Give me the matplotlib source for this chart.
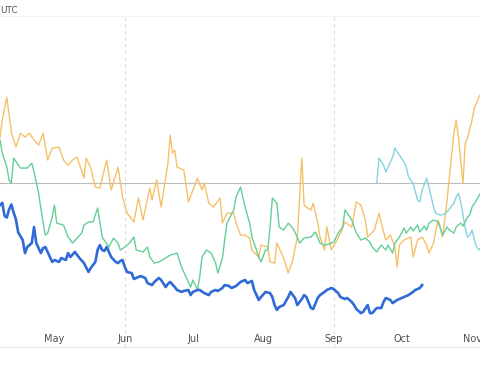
import pandas as pd
import matplotlib
matplotlib.use("Agg")
import matplotlib.pyplot as plt
import matplotlib.dates as mdates

start = pd.Timestamp("2024-04-07")

# days since start, values (reference level = 100)
orange_days = [0, 1, 3, 5, 7, 9, 11, 13, 15, 17, 19, 21, 23, 26, 28, 30, 32, 34, 37, 38,
               40, 42, 44, 47, 49, 52, 54, 56, 59, 61, 63, 66, 67, 69, 71, 74, 75, 76, 77, 78,
               81, 83, 85, 87, 89, 90, 92, 94, 97, 98, 100, 103, 104, 106, 108, 110, 111, 114, 115, 118,
               119, 121, 122, 125, 127, 129, 131, 133, 134, 135, 137, 138, 140, 141, 143, 144, 146, 148, 150, 152,
               155, 157, 159, 161, 162, 165, 167, 168, 170, 172, 174, 175, 176, 178, 181, 182, 184, 186, 188, 189,
               191, 193, 194, 195, 197, 198, 200, 201, 202, 204, 205, 206, 208, 209, 211, 212]
orange_vals = [128.1, 138.5, 152.4, 131.2, 122.0, 130.5, 128.1, 130.5, 126.3, 123.2, 130.5, 114.1, 121.4, 122.0, 114.1, 111.0, 114.1, 115.9, 103.1, 115.3,
               109.2, 97.6, 97.0, 114.1, 95.8, 109.8, 91.5, 81.7, 76.3, 90.9, 77.5, 97.0, 89.7, 101.9, 85.4, 112.2, 129.3, 118.3, 120.2, 109.8,
               108.0, 88.5, 95.8, 103.1, 95.8, 100.0, 87.8, 85.4, 90.9, 75.6, 81.7, 81.7, 75.6, 68.3, 68.3, 66.5, 59.2, 54.9, 62.2, 61.0,
               51.9, 51.2, 63.4, 54.3, 45.1, 53.1, 67.1, 115.3, 86.6, 85.4, 83.6, 87.8, 75.6, 67.1, 59.2, 73.2, 59.2, 64.0, 69.5, 76.3,
               73.2, 88.5, 86.6, 77.5, 67.1, 71.4, 81.7, 75.6, 65.3, 68.3, 61.0, 48.8, 62.2, 65.3, 67.1, 54.9, 65.3, 67.1, 62.2, 57.3,
               63.4, 77.5, 73.2, 67.1, 89.7, 103.7, 130.5, 138.5, 128.1, 100.0, 124.4, 127.5, 138.5, 145.8, 152.4, 155.0]

green_days = [0, 1, 3, 4, 5, 6, 9, 12, 14, 15, 17, 19, 20, 21, 23, 24, 25, 28, 30, 32,
              34, 36, 37, 39, 41, 43, 44, 45, 48, 50, 52, 53, 55, 57, 59, 60, 63, 65, 66, 68,
              70, 73, 75, 78, 80, 82, 84, 85, 87, 88, 89, 91, 93, 95, 96, 98, 99, 100, 103, 104,
              106, 108, 110, 111, 113, 114, 115, 117, 118, 119, 120, 122, 123, 125, 127, 129, 131, 132, 134, 137,
              139, 141, 143, 145, 147, 149, 151, 152, 153, 155, 157, 159, 161, 163, 164, 166, 168, 170, 171, 173,
              174, 176, 178, 179, 181, 182, 184, 185, 187, 188, 189, 191, 193, 194, 195, 197, 198, 200, 201, 203,
              204, 206, 207, 208, 210, 212]
green_vals = [126.3, 118.3, 109.8, 101.9, 100.0, 115.3, 109.2, 109.2, 112.2, 106.8, 93.9, 75.6, 68.3, 69.5, 79.3, 86.6, 75.6, 74.4, 67.1, 63.4,
              66.5, 69.5, 74.4, 76.3, 76.3, 84.8, 76.3, 67.1, 61.0, 66.5, 63.4, 59.2, 61.0, 63.4, 67.1, 59.2, 58.0, 61.0, 54.9, 51.2,
              51.9, 54.3, 56.1, 57.3, 48.8, 42.7, 36.6, 40.9, 34.8, 42.7, 54.9, 59.2, 57.3, 51.2, 45.1, 54.3, 65.3, 75.6, 83.6, 91.5,
              97.6, 85.4, 75.6, 67.1, 59.2, 54.9, 51.9, 59.2, 59.2, 73.2, 90.9, 87.8, 73.2, 71.4, 75.6, 72.6, 67.1, 63.4, 66.5, 67.1,
              70.2, 63.4, 62.2, 62.8, 64.0, 69.5, 73.2, 83.6, 81.7, 77.5, 69.5, 65.3, 66.5, 64.0, 61.0, 58.0, 62.2, 59.2, 62.2, 57.3,
              63.4, 67.1, 72.6, 69.5, 73.2, 70.8, 74.4, 70.2, 73.8, 71.4, 75.6, 77.5, 76.3, 72.6, 68.3, 73.2, 71.4, 69.5, 73.2, 75.6,
              73.8, 79.3, 80.5, 85.4, 89.7, 94.6]

blue_days = [0, 1, 2, 3, 4, 5, 6, 7, 8, 10, 11, 12, 14, 15, 16, 18, 19, 20, 22, 23,
             24, 26, 27, 29, 30, 31, 33, 35, 37, 39, 40, 42, 43, 44, 45, 46, 47, 48, 49, 51,
             52, 53, 54, 55, 56, 58, 59, 61, 62, 64, 65, 67, 68, 70, 71, 73, 74, 75, 77, 78,
             80, 81, 83, 84, 85, 87, 88, 90, 92, 93, 95, 96, 98, 99, 101, 102, 104, 106, 108, 109,
             111, 112, 114, 115, 117, 119, 120, 121, 122, 123, 125, 127, 128, 130, 131, 133, 134, 135, 137, 138,
             140, 141, 143, 144, 146, 147, 149, 150, 152, 153, 155, 156, 157, 159, 160, 162, 163, 164, 166, 168,
             169, 170, 172, 173, 175, 176, 177, 179, 180, 182, 183, 184, 185, 186]
blue_vals = [86.6, 88.0, 80.0, 79.0, 84.0, 87.0, 82.0, 78.0, 70.0, 65.3, 57.3, 61.0, 63.4, 73.2, 63.4, 57.3, 60.4, 61.0, 54.9, 51.9,
             53.1, 51.9, 54.3, 53.1, 57.3, 54.9, 58.0, 54.3, 51.2, 45.8, 48.2, 51.9, 59.2, 62.2, 59.2, 58.6, 61.0, 58.0, 54.9, 51.9,
             51.2, 52.5, 53.1, 48.8, 45.8, 45.1, 41.5, 42.7, 43.3, 42.1, 39.0, 37.8, 39.7, 42.1, 40.9, 36.6, 38.5, 39.7, 36.6, 34.8,
             33.6, 34.2, 34.8, 31.7, 33.6, 34.8, 34.8, 32.9, 31.7, 33.6, 34.8, 34.2, 36.0, 37.8, 37.2, 36.0, 37.2, 39.7, 40.9, 39.0,
             40.3, 34.8, 28.7, 30.5, 33.6, 32.9, 30.5, 25.6, 22.6, 24.4, 25.6, 30.5, 33.6, 29.9, 25.6, 29.3, 31.7, 30.5, 23.8, 23.2,
             29.9, 31.7, 33.6, 34.8, 36.0, 35.4, 32.9, 30.5, 29.3, 29.9, 27.5, 25.6, 23.2, 20.7, 21.4, 25.6, 20.7, 20.7, 23.8, 23.8,
             27.5, 29.9, 28.7, 26.8, 28.7, 29.3, 29.9, 31.1, 31.7, 33.6, 34.8, 35.4, 36.0, 37.8]

cyan_days = [166, 167, 169, 170, 172, 173, 174, 176, 178, 179, 180, 182, 184, 185, 186, 188, 189, 191, 192, 194,
             196, 198, 200, 201, 202, 203, 204, 205, 206, 207, 208, 209, 210, 211, 212]
cyan_vals = [100.0, 115.3, 111.0, 106.8, 112.9, 115.9, 121.4, 117.1, 112.9, 110.0, 103.7, 100.0, 89.7, 88.5, 95.8, 103.1, 97.6, 85.4, 81.7, 80.5,
             81.1, 84.2, 87.8, 91.5, 93.9, 88.5, 80.5, 72.6, 67.1, 68.3, 71.4, 65.3, 61.0, 59.2, 61.0]

reference_level = 100
gridline_dates = ["2024-06-01", "2024-09-01"]


def to_dates(days):
    return start + pd.to_timedelta(days, unit="D")


fig = plt.figure(figsize=(4.8, 3.84), dpi=100)
ax = fig.add_axes([0, 1 - 347 / 384, 1, (347 - 16) / 384])

for d in gridline_dates:
    ax.axvline(pd.Timestamp(d), color="#dcdcdc", lw=0.8, ls=(0, (3, 3)), zorder=1)
ax.axhline(reference_level, color="#bdbdbd", lw=0.8, zorder=1)

ax.plot(to_dates(orange_days), orange_vals, color="#f5c168", lw=1.0, zorder=3)
ax.plot(to_dates(green_days), green_vals, color="#63cf95", lw=1.0, zorder=4)
ax.plot(to_dates(cyan_days), cyan_vals, color="#86d4de", lw=1.0, zorder=3)
ax.plot(to_dates(blue_days), blue_vals, color="#2f6ad6", lw=1.9, zorder=5)

ax.set_xlim(start, start + pd.Timedelta(days=211.5))
ax.set_ylim(0, 202)

ax.xaxis.set_major_locator(mdates.MonthLocator())
ax.xaxis.set_major_formatter(mdates.DateFormatter("%b"))
ax.tick_params(axis="x", length=0, pad=-9, labelsize=7, labelcolor="#505050")
ax.set_yticks([])

for s in ["left", "right"]:
    ax.spines[s].set_visible(False)
ax.spines["top"].set_color("#f2f2f2")
ax.spines["bottom"].set_color("#e6e6e6")
ax.spines["top"].set_linewidth(0.8)
ax.spines["bottom"].set_linewidth(0.8)

fig.text(0.001, 0.973, "UTC", fontsize=6.5, color="#555555", va="center", ha="left")

fig.savefig("out.png", dpi=100)
